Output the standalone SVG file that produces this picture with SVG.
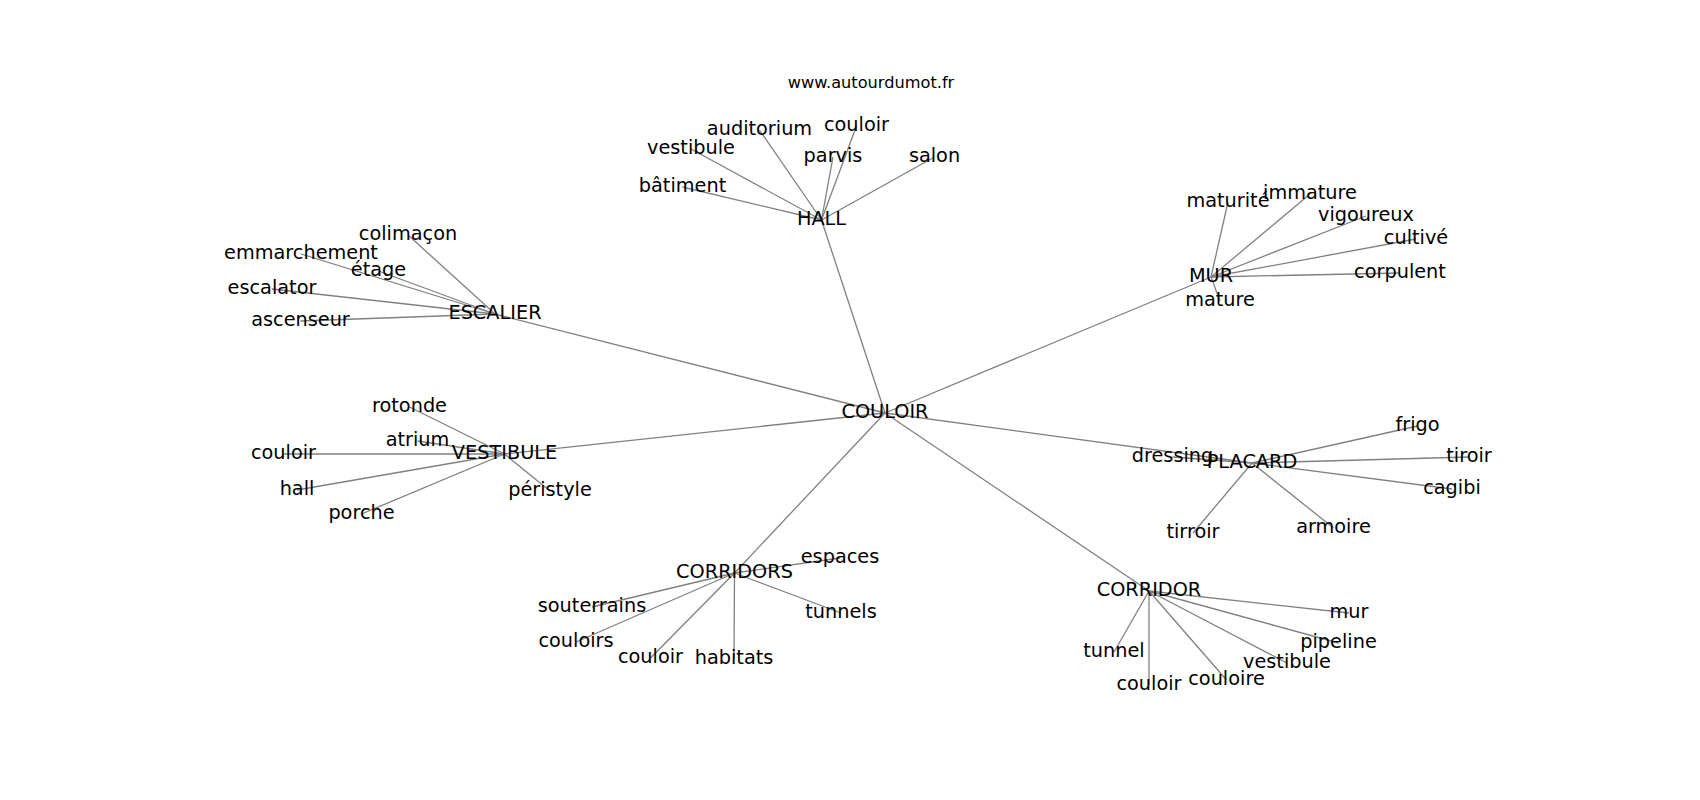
<svg xmlns="http://www.w3.org/2000/svg" width="1700" height="800" viewBox="0 0 1700 800">
<style>
.e line{stroke:#808080;stroke-width:1.3;fill:none}
text{font-family:"DejaVu Sans","Liberation Sans",sans-serif;font-size:19.3px;fill:#000;text-anchor:middle}
.t{font-size:16.2px}
</style>
<rect width="1700" height="800" fill="#fff"/>
<g id="connectors" class="e">
<line x1="885" y1="413" x2="821.5" y2="220"/>
<line x1="885" y1="413" x2="495" y2="314"/>
<line x1="885" y1="413" x2="1211" y2="277"/>
<line x1="885" y1="413" x2="504.5" y2="454"/>
<line x1="885" y1="413" x2="1252" y2="463"/>
<line x1="885" y1="413" x2="734.5" y2="573"/>
<line x1="885" y1="413" x2="1149" y2="591"/>
<line x1="821.5" y1="220" x2="759.5" y2="130"/>
<line x1="821.5" y1="220" x2="856.5" y2="126"/>
<line x1="821.5" y1="220" x2="691" y2="149"/>
<line x1="821.5" y1="220" x2="833" y2="157"/>
<line x1="821.5" y1="220" x2="934.5" y2="157"/>
<line x1="821.5" y1="220" x2="682.5" y2="187"/>
<line x1="495" y1="314" x2="408" y2="235"/>
<line x1="495" y1="314" x2="301" y2="254"/>
<line x1="495" y1="314" x2="378.5" y2="271"/>
<line x1="495" y1="314" x2="272" y2="289"/>
<line x1="495" y1="314" x2="300.5" y2="321"/>
<line x1="1211" y1="277" x2="1228" y2="202"/>
<line x1="1211" y1="277" x2="1310" y2="194"/>
<line x1="1211" y1="277" x2="1366" y2="216"/>
<line x1="1211" y1="277" x2="1416" y2="239"/>
<line x1="1211" y1="277" x2="1400" y2="273"/>
<line x1="1211" y1="277" x2="1220" y2="301"/>
<line x1="504.5" y1="454" x2="409.5" y2="407"/>
<line x1="504.5" y1="454" x2="417.5" y2="441"/>
<line x1="504.5" y1="454" x2="283.5" y2="454"/>
<line x1="504.5" y1="454" x2="297" y2="490"/>
<line x1="504.5" y1="454" x2="361.5" y2="514"/>
<line x1="504.5" y1="454" x2="550" y2="491"/>
<line x1="1252" y1="463" x2="1172.5" y2="457"/>
<line x1="1252" y1="463" x2="1417.5" y2="426"/>
<line x1="1252" y1="463" x2="1469" y2="457"/>
<line x1="1252" y1="463" x2="1452" y2="489"/>
<line x1="1252" y1="463" x2="1193" y2="533"/>
<line x1="1252" y1="463" x2="1333.5" y2="528"/>
<line x1="734.5" y1="573" x2="840" y2="558"/>
<line x1="734.5" y1="573" x2="592" y2="607"/>
<line x1="734.5" y1="573" x2="841" y2="613"/>
<line x1="734.5" y1="573" x2="576" y2="642"/>
<line x1="734.5" y1="573" x2="650.5" y2="658"/>
<line x1="734.5" y1="573" x2="734" y2="659"/>
<line x1="1149" y1="591" x2="1114" y2="652"/>
<line x1="1149" y1="591" x2="1149" y2="685"/>
<line x1="1149" y1="591" x2="1226.5" y2="680"/>
<line x1="1149" y1="591" x2="1287" y2="663"/>
<line x1="1149" y1="591" x2="1349" y2="613"/>
<line x1="1149" y1="591" x2="1338.5" y2="643"/>
</g>
<text class="t" x="871" y="88">www.autourdumot.fr</text>
<g id="n-couloir"><text x="885" y="418">COULOIR</text></g>
<g id="n-hall"><text x="821.5" y="225">HALL</text></g>
<g id="n-hall-auditorium"><text x="759.5" y="135">auditorium</text></g>
<g id="n-hall-couloir"><text x="856.5" y="131">couloir</text></g>
<g id="n-hall-vestibule"><text x="691" y="154">vestibule</text></g>
<g id="n-hall-parvis"><text x="833" y="162">parvis</text></g>
<g id="n-hall-salon"><text x="934.5" y="162">salon</text></g>
<g id="n-hall-batiment"><text x="682.5" y="192">bâtiment</text></g>
<g id="n-escalier"><text x="495" y="319">ESCALIER</text></g>
<g id="n-esc-colimacon"><text x="408" y="240">colimaçon</text></g>
<g id="n-esc-emmarchement"><text x="301" y="259">emmarchement</text></g>
<g id="n-esc-etage"><text x="378.5" y="276">étage</text></g>
<g id="n-esc-escalator"><text x="272" y="294">escalator</text></g>
<g id="n-esc-ascenseur"><text x="300.5" y="326">ascenseur</text></g>
<g id="n-mur"><text x="1211" y="282">MUR</text></g>
<g id="n-mur-maturite"><text x="1228" y="207">maturité</text></g>
<g id="n-mur-immature"><text x="1310" y="199">immature</text></g>
<g id="n-mur-vigoureux"><text x="1366" y="221">vigoureux</text></g>
<g id="n-mur-cultive"><text x="1416" y="244">cultivé</text></g>
<g id="n-mur-corpulent"><text x="1400" y="278">corpulent</text></g>
<g id="n-mur-mature"><text x="1220" y="306">mature</text></g>
<g id="n-vestibule"><text x="504.5" y="459">VESTIBULE</text></g>
<g id="n-ves-rotonde"><text x="409.5" y="412">rotonde</text></g>
<g id="n-ves-atrium"><text x="417.5" y="446">atrium</text></g>
<g id="n-ves-couloir"><text x="283.5" y="459">couloir</text></g>
<g id="n-ves-hall"><text x="297" y="495">hall</text></g>
<g id="n-ves-porche"><text x="361.5" y="519">porche</text></g>
<g id="n-ves-peristyle"><text x="550" y="496">péristyle</text></g>
<g id="n-placard"><text x="1252" y="468">PLACARD</text></g>
<g id="n-pla-dressing"><text x="1172.5" y="462">dressing</text></g>
<g id="n-pla-frigo"><text x="1417.5" y="431">frigo</text></g>
<g id="n-pla-tiroir"><text x="1469" y="462">tiroir</text></g>
<g id="n-pla-cagibi"><text x="1452" y="494">cagibi</text></g>
<g id="n-pla-tirroir"><text x="1193" y="538">tirroir</text></g>
<g id="n-pla-armoire"><text x="1333.5" y="533">armoire</text></g>
<g id="n-corridors"><text x="734.5" y="578">CORRIDORS</text></g>
<g id="n-cos-espaces"><text x="840" y="563">espaces</text></g>
<g id="n-cos-souterrains"><text x="592" y="612">souterrains</text></g>
<g id="n-cos-tunnels"><text x="841" y="618">tunnels</text></g>
<g id="n-cos-couloirs"><text x="576" y="647">couloirs</text></g>
<g id="n-cos-couloir"><text x="650.5" y="663">couloir</text></g>
<g id="n-cos-habitats"><text x="734" y="664">habitats</text></g>
<g id="n-corridor"><text x="1149" y="596">CORRIDOR</text></g>
<g id="n-cor-tunnel"><text x="1114" y="657">tunnel</text></g>
<g id="n-cor-couloir"><text x="1149" y="690">couloir</text></g>
<g id="n-cor-couloire"><text x="1226.5" y="685">couloire</text></g>
<g id="n-cor-vestibule"><text x="1287" y="668">vestibule</text></g>
<g id="n-cor-mur"><text x="1349" y="618">mur</text></g>
<g id="n-cor-pipeline"><text x="1338.5" y="648">pipeline</text></g>
</svg>
